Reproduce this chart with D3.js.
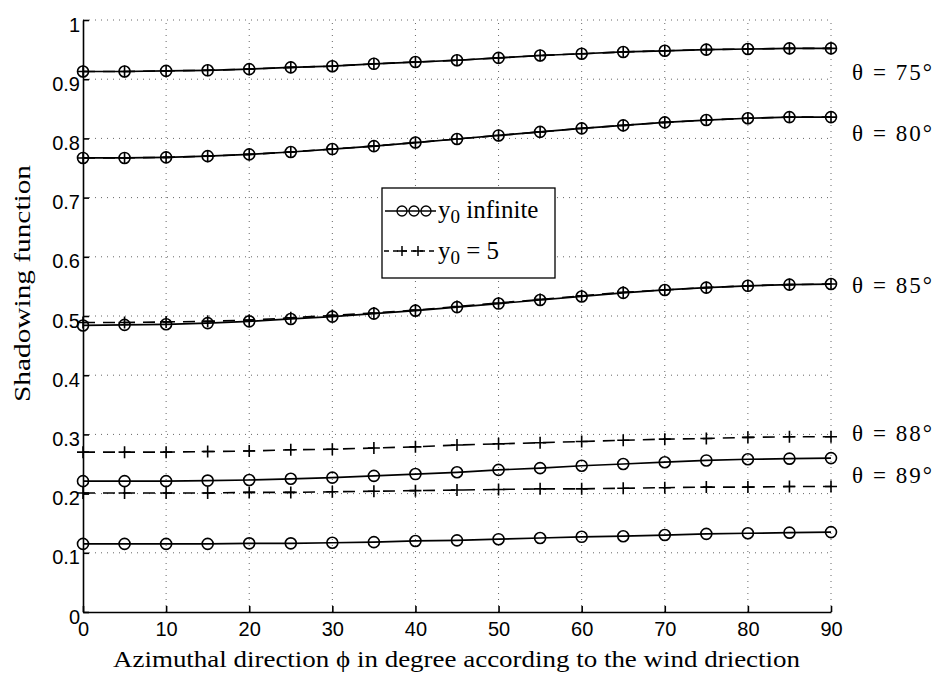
<!DOCTYPE html>
<html><head><meta charset="utf-8">
<script src="https://cdn.jsdelivr.net/npm/d3@7"></script>
<style>body{margin:0;background:#fff}</style>
</head><body>
<svg id="c" width="940" height="675"></svg>
<script>
const phi = [0,5,10,15,20,25,30,35,40,45,50,55,60,65,70,75,80,85,90];
const thetaLabels = ["θ = 75°","θ = 80°","θ = 85°","θ = 88°","θ = 89°"];
const inf75 = [0.913,0.913,0.914,0.915,0.917,0.920,0.922,0.926,0.929,0.932,0.936,0.940,0.943,0.946,0.948,0.950,0.951,0.952,0.952];
const inf80 = [0.767,0.767,0.768,0.770,0.773,0.777,0.782,0.787,0.793,0.799,0.805,0.811,0.817,0.822,0.827,0.831,0.834,0.836,0.836];
const inf85 = [0.484,0.485,0.486,0.488,0.491,0.495,0.499,0.504,0.509,0.515,0.521,0.527,0.533,0.539,0.544,0.548,0.551,0.553,0.554];
const inf88 = [0.221,0.221,0.221,0.222,0.223,0.225,0.227,0.230,0.233,0.236,0.240,0.243,0.247,0.250,0.253,0.256,0.258,0.259,0.260];
const inf89 = [0.115,0.115,0.115,0.115,0.116,0.116,0.117,0.118,0.120,0.121,0.123,0.125,0.127,0.128,0.130,0.132,0.133,0.134,0.135];
const y5_75 = inf75;
const y5_80 = inf80;
const y5_85 = [0.489,0.489,0.490,0.491,0.493,0.497,0.501,0.505,0.510,0.516,0.522,0.528,0.534,0.540,0.544,0.548,0.551,0.553,0.554];
const y5_88 = [0.270,0.270,0.270,0.271,0.272,0.274,0.275,0.277,0.279,0.282,0.284,0.286,0.288,0.290,0.292,0.293,0.295,0.296,0.296];
const y5_89 = [0.201,0.201,0.201,0.201,0.202,0.202,0.203,0.204,0.205,0.206,0.207,0.208,0.208,0.209,0.210,0.211,0.211,0.212,0.212];
const xTicks = [0,10,20,30,40,50,60,70,80,90];
const yTicks = [0,0.1,0.2,0.3,0.4,0.5,0.6,0.7,0.8,0.9,1];
const labelY = [0.912,0.809,0.552,0.302,0.231];

const infSeries = [inf75,inf80,inf85,inf88,inf89];
const y5Series = [y5_75,y5_80,y5_85,y5_88,y5_89];

const serif = "'Liberation Serif', 'Times New Roman', serif";
const sans = "'Liberation Sans', Arial, sans-serif";
const svg = d3.select("#c");
const x = d3.scaleLinear().domain([0,90]).range([83,831]);
const y = d3.scaleLinear().domain([0,1]).range([612,20]);

// grid
const g = svg.append("g");
g.selectAll("line.gx").data(xTicks.slice(1)).join("line")
  .attr("x1",d=>x(d)).attr("x2",d=>x(d)).attr("y1",y(0)).attr("y2",y(1))
  .attr("stroke","#666").attr("stroke-width",1).attr("stroke-dasharray","1,5");
g.selectAll("line.gy").data(yTicks.slice(1)).join("line")
  .attr("x1",x(0)).attr("x2",x(90)).attr("y1",d=>y(d)).attr("y2",d=>y(d))
  .attr("stroke","#666").attr("stroke-width",1).attr("stroke-dasharray","1,5");

// axes
const fmt = d => d===0?"0":d===1?"1":d3.format(".1f")(d);
const ax = svg.append("g").attr("transform",`translate(0,${y(0)})`)
  .call(d3.axisBottom(x).tickValues(xTicks).tickSize(-6).tickPadding(8).tickSizeOuter(0));
const ay = svg.append("g").attr("transform",`translate(${x(0)},0)`)
  .call(d3.axisLeft(y).tickValues(yTicks).tickFormat(fmt).tickSize(-6).tickPadding(3).tickSizeOuter(0));
[ax,ay].forEach(a=>{
  a.select(".domain").attr("stroke","#000").attr("stroke-width",1.6);
  a.selectAll(".tick line").attr("stroke","#000").attr("stroke-width",1.6);
  a.selectAll("text").attr("font-family",sans).attr("font-size",20).attr("fill","#000");
});
ay.selectAll("text").attr("dy","0.55em");
ax.selectAll("text").attr("dy","0.78em");

const line = d3.line().x((d,i)=>x(phi[i])).y(d=>y(d));

// y0=5 dashed lines with + markers
y5Series.forEach(s=>{
  svg.append("path").datum(s).attr("d",line).attr("fill","none")
    .attr("stroke","#000").attr("stroke-width",1.6).attr("stroke-dasharray","12,8");
  svg.append("g").selectAll("path").data(s).join("path")
    .attr("d",(d,i)=>`M${x(phi[i])-6},${y(d)}h12M${x(phi[i])},${y(d)-6}v12`)
    .attr("stroke","#000").attr("stroke-width",1.6);
});
// y0 infinite solid lines with circles
infSeries.forEach(s=>{
  svg.append("path").datum(s).attr("d",line).attr("fill","none")
    .attr("stroke","#000").attr("stroke-width",1.7);
  svg.append("g").selectAll("circle").data(s).join("circle")
    .attr("cx",(d,i)=>x(phi[i])).attr("cy",d=>y(d)).attr("r",5.5)
    .attr("fill","none").attr("stroke","#000").attr("stroke-width",1.6);
});

// theta labels
svg.append("g").selectAll("text").data(thetaLabels).join("text")
  .attr("x",852).attr("y",(d,i)=>y(labelY[i])+8)
  .attr("font-family",serif).attr("font-size",23)
  .attr("textLength",80).attr("lengthAdjust","spacing")
  .text(d=>d);

// legend
const lg = svg.append("g");
lg.append("rect").attr("x",382).attr("y",188).attr("width",173).attr("height",90)
  .attr("fill","#fff").attr("stroke","#000").attr("stroke-width",1.3);
lg.append("line").attr("x1",385).attr("x2",436).attr("y1",211).attr("y2",211).attr("stroke","#000").attr("stroke-width",1.6);
lg.selectAll("circle").data([402,414,426]).join("circle").attr("cx",d=>d).attr("cy",211).attr("r",5)
  .attr("fill","none").attr("stroke","#000").attr("stroke-width",1.3);
lg.append("line").attr("x1",384).attr("x2",435).attr("y1",251).attr("y2",251).attr("stroke","#000").attr("stroke-width",1.5).attr("stroke-dasharray","5,4");
lg.selectAll("path.p").data([402,418]).join("path")
  .attr("d",d=>`M${d-5},251h10M${d},246v10`).attr("stroke","#000").attr("stroke-width",1.5);
const t1 = lg.append("text").attr("x",438).attr("y",218).attr("font-family",serif).attr("font-size",25);
t1.append("tspan").text("y");
t1.append("tspan").attr("font-size",19).attr("dy",5).text("0");
t1.append("tspan").attr("dy",-5).text(" infinite");
const t2 = lg.append("text").attr("x",438).attr("y",259).attr("font-family",serif).attr("font-size",25);
t2.append("tspan").text("y");
t2.append("tspan").attr("font-size",19).attr("dy",5).text("0");
t2.append("tspan").attr("dy",-5).text(" = 5");

// axis titles
svg.append("text").attr("x",113).attr("y",667)
  .attr("font-family",serif).attr("font-size",24)
  .attr("textLength",687).attr("lengthAdjust","spacingAndGlyphs")
  .text("Azimuthal direction ϕ in degree according to the wind driection");
svg.append("text").attr("transform","translate(30,402) rotate(-90)")
  .attr("font-family",serif).attr("font-size",24)
  .attr("textLength",237).attr("lengthAdjust","spacingAndGlyphs")
  .text("Shadowing function");
</script>
</body></html>
